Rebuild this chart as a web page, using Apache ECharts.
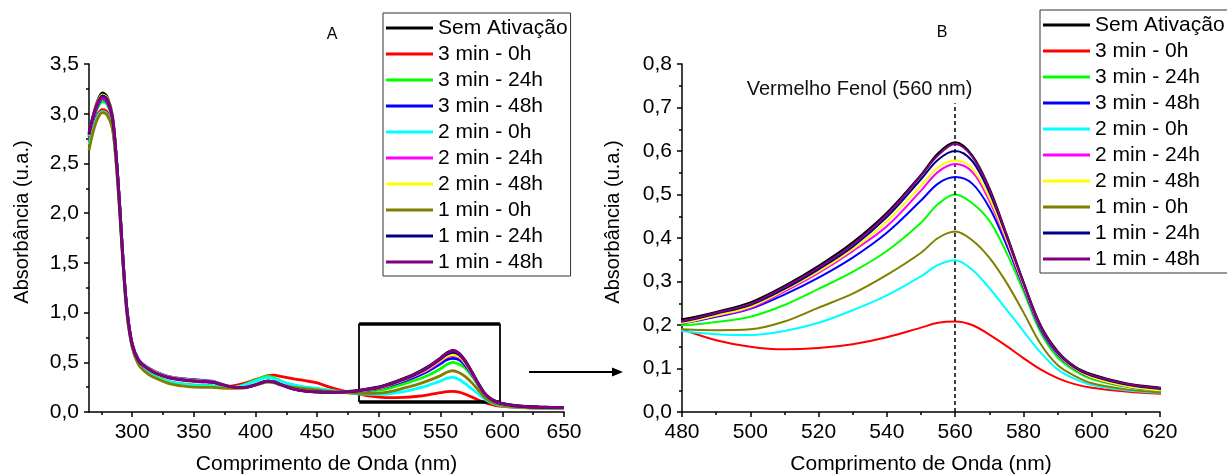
<!DOCTYPE html>
<html>
<head>
<meta charset="utf-8">
<script src="https://cdn.jsdelivr.net/npm/echarts@6/dist/echarts.min.js"></script>
<style>html,body{margin:0;padding:0;background:#fff}#c{width:1227px;height:475px}</style>
</head>
<body>
<div id="c"></div>
<script>
const wavelengths = [265,268,272,276,280,284,287,290,293,296,300,305,310,315,320,330,340,350,360,365,370,380,390,400,410,415,420,430,440,450,460,470,480,490,500,510,520,530,540,550,555,560,565,570,575,580,585,590,595,600,610,620,630,640,650];

const names = ['Sem Ativação','3 min - 0h','3 min - 24h','3 min - 48h','2 min - 0h','2 min - 24h','2 min - 48h','1 min - 0h','1 min - 24h','1 min - 48h'];
const colors = ['#000000','#ff0000','#00ff00','#0000ff','#00ffff','#ff00ff','#ffff00','#808000','#000080','#800080'];

const semAtivacao = [2.80,2.96,3.13,3.21,3.16,2.98,2.58,2.05,1.45,1.0,0.68,0.52,0.46,0.42,0.385,
  .345,.325,.312,.305,.3,.285,.255,.247,.275,.31,.303,.28,.235,.212,.203,.2,.203,
  .213,.23,.252,.29,.336,.39,.458,.545,.595,.62,.59,.515,.41,.30,.2,.14,.105,.087,.066,.056,.05,.046,.044];
const min3h0 = [2.72,2.86,2.99,3.04,3.01,2.87,2.52,2.0,1.42,0.97,0.66,0.49,0.42,0.375,0.345,
  .3,.28,.265,.26,.255,.25,.26,.285,.325,.365,.37,.358,.335,.315,.292,.25,.215,
  .19,.165,.15,.144,.147,.156,.172,.194,.205,.208,.2,.178,.152,.124,.098,.078,.064,.056,.047,.042,.04,.039,.038];
const min3h24 = [2.76,2.91,3.06,3.12,3.09,2.93,2.54,2.02,1.43,0.98,0.67,0.5,0.43,0.385,0.355,
  .305,.285,.272,.268,.265,.255,.245,.27,.32,.36,.345,.315,.272,.248,.232,.218,.207,
  .2,.207,.219,.246,.283,.322,.37,.435,.478,.5,.48,.44,.367,.278,.183,.125,.095,.076,.058,.048,.044,.042,.04];
const min3h48 = [2.77,2.92,3.08,3.15,3.11,2.95,2.58,2.06,1.46,1.01,0.69,0.53,0.47,0.43,0.4,
  .355,.335,.325,.315,.31,.29,.255,.247,.275,.31,.303,.28,.238,.215,.205,.2,.201,
  .204,.219,.237,.27,.309,.355,.412,.486,.525,.54,.525,.47,.385,.287,.19,.132,.099,.079,.059,.05,.046,.043,.041];
const min2h0 = [2.69,2.83,2.97,3.02,2.99,2.86,2.52,2.0,1.42,0.97,0.66,0.49,0.42,0.375,0.345,
  .3,.28,.265,.262,.258,.25,.245,.265,.31,.345,.335,.308,.275,.252,.237,.22,.2,
  .186,.179,.177,.186,.205,.234,.268,.312,.338,.349,.327,.285,.236,.186,.137,.098,.076,.062,.05,.044,.041,.039,.038];
const min2h24 = [2.78,2.93,3.09,3.16,3.12,2.95,2.57,2.04,1.44,0.99,0.675,0.515,0.455,0.415,0.385,
  .34,.32,.307,.3,.297,.283,.253,.246,.274,.31,.302,.279,.236,.214,.205,.2,.2,
  .205,.221,.239,.277,.32,.37,.427,.509,.552,.57,.552,.486,.394,.29,.193,.134,.1,.08,.06,.05,.046,.043,.041];
const min2h48 = [2.78,2.95,3.12,3.19,3.15,2.97,2.58,2.05,1.45,1.0,0.68,0.52,0.465,0.425,0.395,
  .35,.33,.318,.31,.305,.288,.255,.247,.275,.31,.303,.28,.238,.222,.21,.203,.201,
  .205,.222,.242,.28,.323,.374,.438,.52,.562,.578,.56,.493,.398,.293,.195,.135,.1,.08,.06,.05,.046,.043,.041];
const min1h0 = [2.63,2.8,2.95,3.01,2.98,2.85,2.5,1.99,1.41,0.96,0.65,0.48,0.41,0.365,0.335,
  .285,.262,.25,.248,.247,.243,.238,.24,.27,.3,.292,.272,.25,.236,.222,.207,.196,
  .19,.188,.19,.208,.24,.272,.315,.366,.4,.415,.395,.355,.298,.229,.157,.108,.083,.066,.052,.045,.042,.04,.039];
const min1h24 = [2.79,2.95,3.11,3.18,3.14,2.96,2.58,2.05,1.45,1.0,0.68,0.52,0.46,0.42,0.387,
  .345,.325,.312,.306,.3,.285,.255,.246,.274,.31,.302,.278,.234,.211,.202,.199,.201,
  .208,.226,.246,.283,.328,.38,.448,.535,.58,.6,.577,.505,.405,.296,.196,.136,.102,.083,.063,.053,.048,.045,.043];
const min1h48 = [2.81,2.96,3.11,3.17,3.13,2.96,2.58,2.05,1.45,1.0,0.68,0.52,0.46,0.42,0.387,
  .345,.325,.312,.307,.302,.286,.254,.245,.273,.31,.302,.277,.232,.21,.2,.197,.2,
  .209,.228,.248,.287,.332,.385,.454,.543,.59,.616,.587,.512,.408,.298,.198,.138,.104,.085,.065,.055,.05,.046,.044];

const seriesValues = [semAtivacao,min3h0,min3h24,min3h48,min2h0,min2h24,min2h48,min1h0,min1h24,min1h48];

const xTicksA = [300,350,400,450,500,550,600,650];
const xMinorA = [275,325,375,425,475,525,575,625];
// zoom box (panel A) and marker (panel B) in data units
const boxX = [484, 598];
const boxY = [0.10, 0.89];
const markerNm = 560;
const markerTop = 0.71;
const markerLabelPos = [532, 0.742];

const FONT = 'Liberation Sans, Arial, sans-serif';
const comma = v => v.toFixed(1).replace('.', ',');

function yAxis(gridIndex, max, interval, gap) {
  return {
    type: 'value', gridIndex, min: 0, max, interval,
    name: 'Absorbância (u.a.)', nameLocation: 'middle', nameGap: gap,
    nameTextStyle: { fontSize: 20, color: '#000', fontFamily: FONT, padding: [0, 0, 0, 32] },
    axisLine: { show: true, lineStyle: { color: '#000', width: 1.5 } },
    axisTick: { show: true, length: 5, lineStyle: { color: '#000', width: 1.5 } },
    minorTick: { show: true, splitNumber: 2, length: 3, lineStyle: { color: '#000', width: 1.5 } },
    splitLine: { show: false }, minorSplitLine: { show: false },
    axisLabel: { fontSize: 21, color: '#000', margin: 10, fontFamily: FONT, formatter: comma }
  };
}
const xName = { name: 'Comprimento de Onda (nm)', nameLocation: 'middle', nameGap: 42,
  nameTextStyle: { fontSize: 21, color: '#000', fontFamily: FONT } };

const lineAxis = { show: true, onZero: false, lineStyle: { color: '#000', width: 1.5 } };

const series = [];
names.forEach((n, i) => {
  const data = wavelengths.map((w, k) => [w, seriesValues[i][k]]);
  series.push({ name: n, type: 'line', xAxisIndex: 0, yAxisIndex: 0, data, showSymbol: false,
    smooth: 0.35, lineStyle: { width: 2.8, color: colors[i] }, itemStyle: { color: colors[i] }, z: 2 + i });
  series.push({ name: n, type: 'line', xAxisIndex: 2, yAxisIndex: 1, data, showSymbol: false,
    smooth: 0.35, clip: true, lineStyle: { width: 2, color: colors[i] }, itemStyle: { color: colors[i] }, z: 2 + i });
});
// zoom rectangle on A
series.push({ type: 'line', xAxisIndex: 0, yAxisIndex: 0, data: [[boxX[0], boxY[0]]], showSymbol: false,
  lineStyle: { width: 0 }, z: 20,
  markLine: { silent: true, symbol: 'none', animation: false, label: { show: false },
    lineStyle: { color: '#000', type: 'solid' },
    data: [
      [{ coord: [boxX[0], boxY[1]], lineStyle: { width: 3.5, color: '#000', type: 'solid' } }, { coord: [boxX[1], boxY[1]] }],
      [{ coord: [boxX[0], boxY[0]], lineStyle: { width: 3.5, color: '#000', type: 'solid' } }, { coord: [boxX[1], boxY[0]] }],
      [{ coord: [boxX[0], boxY[0]], lineStyle: { width: 1.8, color: '#000', type: 'solid' } }, { coord: [boxX[0], boxY[1]] }],
      [{ coord: [boxX[1], boxY[0]], lineStyle: { width: 1.8, color: '#000', type: 'solid' } }, { coord: [boxX[1], boxY[1]] }]
    ] } });
// marker on B
series.push({ type: 'line', xAxisIndex: 2, yAxisIndex: 1, data: [[markerNm, 0]], showSymbol: false,
  lineStyle: { width: 0 }, z: 20,
  markLine: { silent: true, symbol: 'none', animation: false, label: { show: false },
    data: [[{ coord: [markerNm, 0], lineStyle: { width: 1.5, color: '#000', type: [4, 3] } }, { coord: [markerNm, markerTop] }]] },
  markPoint: { silent: true, symbol: 'circle', symbolSize: 0, animation: false,
    data: [{ coord: markerLabelPos, label: { show: true, position: 'inside', formatter: 'Vermelho Fenol (560 nm)',
      fontSize: 20, color: '#111', fontFamily: FONT } }] } });

const legendCommon = { orient: 'vertical', itemGap: 4, itemWidth: 47, itemHeight: 3, icon: 'rect',
  borderColor: '#333', borderWidth: 1, backgroundColor: '#fff', selectedMode: false,
  textStyle: { fontSize: 21, lineHeight: 22, color: '#000', fontFamily: FONT }, data: names };

const option = {
  animation: false,
  textStyle: { fontFamily: FONT },
  grid: [
    { left: 89, top: 64, width: 475, height: 348, outerBoundsMode: 'none' },
    { left: 682, top: 64, width: 478, height: 348, outerBoundsMode: 'none' }
  ],
  xAxis: [
    Object.assign({ type: 'value', gridIndex: 0, min: 265, max: 650, position: 'bottom',
      axisLine: lineAxis,
      axisTick: { show: true, length: 5, customValues: xTicksA, lineStyle: { color: '#000', width: 1.5 } },
      splitLine: { show: false },
      axisLabel: { fontSize: 21, color: '#000', margin: 10, fontFamily: FONT, customValues: xTicksA } }, xName),
    { type: 'value', gridIndex: 0, min: 265, max: 650, position: 'bottom', offset: 0,
      axisLine: { show: false },
      axisTick: { show: true, length: 3, customValues: xMinorA, lineStyle: { color: '#000', width: 1.5 } },
      axisLabel: { show: false }, splitLine: { show: false } },
    Object.assign({ type: 'value', gridIndex: 1, min: 480, max: 620, interval: 20, position: 'bottom',
      axisLine: lineAxis,
      axisTick: { show: true, length: 5, lineStyle: { color: '#000', width: 1.5 } },
      minorTick: { show: true, splitNumber: 2, length: 3, lineStyle: { color: '#000', width: 1.5 } },
      splitLine: { show: false }, minorSplitLine: { show: false },
      axisLabel: { fontSize: 21, color: '#000', margin: 10, fontFamily: FONT } }, xName)
  ],
  yAxis: [ yAxis(0, 3.5, 0.5, 57), yAxis(1, 0.8, 0.1, 59) ],
  legend: [
    Object.assign({ left: 383, top: 13, padding: [4, 3, 3, 3] }, legendCommon),
    Object.assign({ left: 1040, top: 10, padding: [4, 3, 3, 3] }, legendCommon)
  ],
  graphic: [
    { type: 'text', x: 332, y: 35, style: { text: 'A', font: '16px ' + FONT, fill: '#000', textAlign: 'center', textVerticalAlign: 'middle' } },
    { type: 'text', x: 942, y: 33, style: { text: 'B', font: '16px ' + FONT, fill: '#000', textAlign: 'center', textVerticalAlign: 'middle' } },
    { type: 'line', shape: { x1: 529, y1: 372, x2: 615, y2: 372 }, style: { stroke: '#000', lineWidth: 2 } },
    { type: 'polygon', shape: { points: [[612, 367.5], [623, 372], [612, 376.5]] }, style: { fill: '#000' } }
  ],
  series
};
const chart = echarts.init(document.getElementById('c'), null, { renderer: 'canvas' });
chart.setOption(option);
</script>
</body>
</html>
